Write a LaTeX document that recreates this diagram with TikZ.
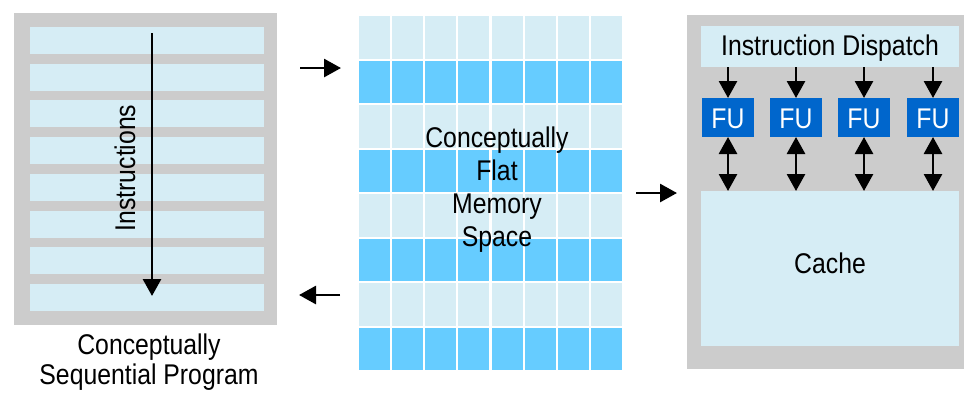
\documentclass[tikz,border=0pt]{standalone}
\usepackage{fontspec}
\setmainfont{Liberation Sans}[FakeStretch=0.87]
\usetikzlibrary{arrows.meta}

\definecolor{panelgray}{HTML}{CCCCCC}
\definecolor{paleblue}{HTML}{D6EDF5}
\definecolor{brightblue}{HTML}{66CCFF}
\definecolor{fublue}{HTML}{0066CC}

\tikzset{
  label/.style={font=\fontsize{28.5}{33}\selectfont, inner sep=0pt},
  box/.style={anchor=north west, inner sep=0pt, outer sep=0pt, draw=none},
  bigtip/.style={line width=2.8pt, -{Triangle[length=17pt,width=18pt]}},
  bothtip/.style={line width=2.8pt, {Triangle[length=17pt,width=18pt]}-{Triangle[length=17pt,width=18pt]}},
}

\begin{document}
\begin{tikzpicture}[x=1pt,y=-1pt]
\useasboundingbox (0,0) rectangle (964,397);

% ---- sequential program ----
\node[box, fill=panelgray, minimum width=263pt, minimum height=312pt] (prog) at (14,13) {};
\foreach \r in {0,...,7}{
  \node[box, fill=paleblue, minimum width=234pt, minimum height=27pt] (row\r) at (30,{27+\r*36.7}) {};
}
\coordinate (istart) at (152,33);
\coordinate (iend) at (152,296);
\draw[bigtip] (istart) -- (iend);
\node[label, rotate=90, anchor=base] (instr) at (135,168) {Instructions};
\node[label, anchor=base] (cap1) at (149,354) {Conceptually};
\node[label, anchor=base] (cap2) at (149,384) {Sequential Program};

% ---- flat memory ----
\foreach \r in {0,...,7}{
  \pgfmathtruncatemacro{\odd}{mod(\r,2)}
  \ifnum\odd=0 \def\cellcol{paleblue}\else\def\cellcol{brightblue}\fi
  \foreach \c in {0,...,7}{
    \node[box, fill=\cellcol, minimum width=31.1pt, minimum height=42.5pt] (m\r\c) at ({359+\c*33.125},{16+\r*44.5}) {};
  }
}
\node[label, anchor=base] (mt1) at (497,147) {Conceptually};
\node[label, anchor=base] (mt2) at (497,180) {Flat};
\node[label, anchor=base] (mt3) at (497,213) {Memory};
\node[label, anchor=base] (mt4) at (497,246) {Space};

% ---- transfer arrows ----
\coordinate (a1s) at (300,68);  \coordinate (a1e) at (341,68);
\coordinate (a2s) at (340,295); \coordinate (a2e) at (299,295);
\coordinate (a3s) at (636,193); \coordinate (a3e) at (677,193);
\draw[bigtip] (a1s) -- (a1e);
\draw[bigtip] (a2s) -- (a2e);
\draw[bigtip] (a3s) -- (a3e);

% ---- processor ----
\node[box, fill=panelgray, minimum width=277pt, minimum height=354pt] (cpu) at (687,15) {};
\node[box, fill=paleblue, minimum width=258pt, minimum height=41pt] (disp) at (701,26) {};
\node[label, anchor=base] (disptxt) at (830,55) {Instruction Dispatch};
\node[box, fill=paleblue, minimum width=258pt, minimum height=155pt] (cache) at (701,191) {};
\node[label, anchor=base] (cachetxt) at (830,273) {Cache};
\foreach \i/\x in {1/702,2/770,3/838,4/907}{
  \node[box, fill=fublue, minimum width=52pt, minimum height=39pt] (fu\i) at (\x,98) {};
  \node[label, anchor=base, text=white] at ([yshift=-10.5pt]fu\i.center) {FU};
  \draw[bigtip] (fu\i.north |- disp.south) -- (fu\i.north);
  \draw[bothtip] (fu\i.south) -- (fu\i.south |- cache.north);
}
\end{tikzpicture}
\end{document}
